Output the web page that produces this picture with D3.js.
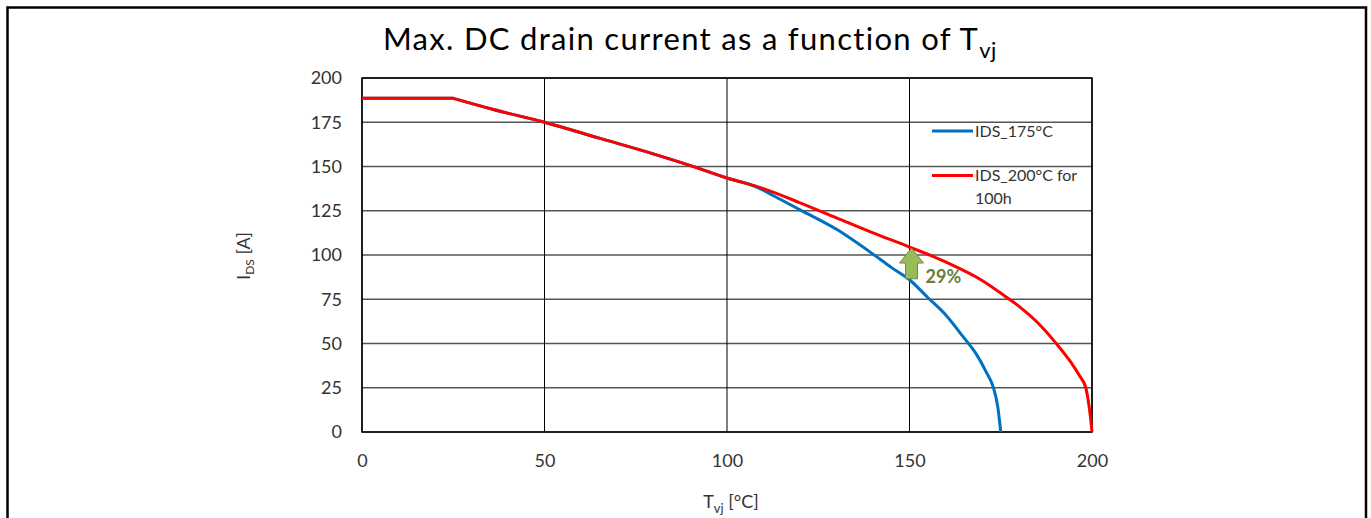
<!DOCTYPE html>
<html>
<head>
<meta charset="utf-8">
<script src="https://cdn.jsdelivr.net/npm/d3@7"></script>
<style>
  body { margin: 0; background: #fff; }
  svg text { font-family: Lato, "Open Sans", sans-serif; }
</style>
</head>
<body>
<div id="grafico"></div>
<script>
// datos
const tempRed = [0, 25, 36, 50, 65, 80, 90, 100, 110, 120, 130, 140, 150, 160, 170, 176, 180, 185, 190, 194, 196.5, 198.3, 199.1, 199.6, 200];
const currRed = [188.5, 188.5, 182.2, 175, 166, 157, 150.5, 143.5, 137.5, 129.5, 121, 112.5, 104.5, 96, 85.5, 77, 71, 62, 50.5, 40, 32, 25, 16, 8, 0];

const tempBlue = [0, 25, 36, 50, 65, 80, 90, 100, 108, 113, 120, 130, 140, 145, 150, 155, 160, 165, 168, 171, 173, 174.2, 175];
const currBlue = [188.5, 188.5, 182.2, 175, 166, 157, 150.5, 143.5, 138.5, 133.2, 125.5, 114.5, 100.5, 93, 86, 76, 66, 53, 45, 34, 25, 14, 0];

const xTicks = [0, 50, 100, 150, 200];
const yTicks = [0, 25, 50, 75, 100, 125, 150, 175, 200];

const seriesNames = ["IDS_175°C", "IDS_200°C for 100h"];
const arrowAt = [150, 86, 104.5];   // T, desde, hasta
const arrowLabel = "29%";

const width = 1371;
const height = 518;
const marginLeft = 362;
const marginRight = 1092;
const marginTop = 78;
const marginBottom = 432;

const svg = d3.select("#grafico")
  .append("svg")
  .attr("width", width)
  .attr("height", height);

// marco exterior
svg.append("rect")
  .attr("x", 7.5).attr("y", 7.5)
  .attr("width", 1358.5).attr("height", 600)
  .attr("fill", "none")
  .attr("stroke", "#000")
  .attr("stroke-width", 2.5);

const xScale = d3.scaleLinear().domain([0, 200]).range([marginLeft, marginRight]);
const yScale = d3.scaleLinear().domain([0, 200]).range([marginBottom, marginTop]);

// titulo
const title = svg.append("text")
  .attr("x", 383).attr("y", 50)
  .attr("font-size", 31)
  .attr("letter-spacing", 1.3)
  .attr("fill", "#000")
  .text("Max. DC drain current as a function of T");
title.append("tspan").attr("font-size", 22).attr("letter-spacing", 0.5).attr("dy", 8).text("vj");

// grilla horizontal
svg.append("g")
  .selectAll("line")
  .data(yTicks)
  .join("line")
  .attr("x1", marginLeft).attr("x2", marginRight)
  .attr("y1", d => yScale(d)).attr("y2", d => yScale(d))
  .attr("stroke", "#555")
  .attr("stroke-width", 1.5);

// grilla vertical
svg.append("g")
  .selectAll("line")
  .data(xTicks)
  .join("line")
  .attr("x1", d => xScale(d)).attr("x2", d => xScale(d))
  .attr("y1", marginTop).attr("y2", marginBottom)
  .attr("stroke", "#000")
  .attr("stroke-width", 1);

// borde del area
svg.append("rect")
  .attr("x", marginLeft).attr("y", marginTop)
  .attr("width", marginRight - marginLeft)
  .attr("height", marginBottom - marginTop)
  .attr("fill", "none")
  .attr("stroke", "#000")
  .attr("stroke-width", 1.5);

// ejes (solo etiquetas)
const yAxis = d3.axisLeft(yScale).tickValues(yTicks).tickSize(0).tickPadding(20);
svg.append("g")
  .attr("transform", `translate(${marginLeft},0)`)
  .call(yAxis)
  .call(g => g.select(".domain").remove())
  .selectAll("text")
  .attr("font-size", 18)
  .attr("font-family", "Lato, sans-serif")
  .attr("fill", "#333");

const xAxis = d3.axisBottom(xScale).tickValues(xTicks).tickSize(0).tickPadding(22);
svg.append("g")
  .attr("transform", `translate(0,${marginBottom})`)
  .call(xAxis)
  .call(g => g.select(".domain").remove())
  .selectAll("text")
  .attr("font-size", 18)
  .attr("font-family", "Lato, sans-serif")
  .attr("fill", "#333");

// curvas: tramo plano recto + tramo curvo suave (esquina en T=25)
const lineaRecta = d3.line().x(d => xScale(d[0])).y(d => yScale(d[1]));
const lineaSuave = d3.line()
  .x(d => xScale(d[0]))
  .y(d => yScale(d[1]))
  .curve(d3.curveMonotoneX);

const dibujarSerie = (temps, corrientes, color) => {
  const datos = temps.map((t, i) => [t, corrientes[i]]);
  const corte = temps.indexOf(25);
  const d = lineaRecta(datos.slice(0, corte + 1)) + lineaSuave(datos.slice(corte)).replace(/^M/, "L");
  svg.append("path")
    .attr("d", d)
    .attr("fill", "none")
    .attr("stroke", color)
    .attr("stroke-width", 3)
    .attr("stroke-linejoin", "round");
};

dibujarSerie(tempBlue, currBlue, "#0070C0");
dibujarSerie(tempRed, currRed, "#FF0000");

// flecha 29%
const ax = xScale(arrowAt[0]) + 2;
const yTop = yScale(arrowAt[2]) + 1;
const yBot = yScale(arrowAt[1]) - 1;
const headH = 15;
const arrowPts = [
  [ax, yTop], [ax + 12, yTop + headH], [ax + 6, yTop + headH], [ax + 6, yBot],
  [ax - 6, yBot], [ax - 6, yTop + headH], [ax - 12, yTop + headH]
];
svg.append("polygon")
  .attr("points", arrowPts.map(p => p.join(",")).join(" "))
  .attr("fill", "#9BBB59")
  .attr("stroke", "#71893F")
  .attr("stroke-width", 1);

svg.append("text")
  .attr("x", ax + 14).attr("y", yBot + 4)
  .attr("font-size", 18)
  .attr("font-weight", "bold")
  .attr("fill", "#6A7D38")
  .text(arrowLabel);

// leyenda
const leyenda = svg.append("g");
leyenda.append("line")
  .attr("x1", 932).attr("x2", 973).attr("y1", 131).attr("y2", 131)
  .attr("stroke", "#0070C0").attr("stroke-width", 3);
leyenda.append("text")
  .attr("x", 975).attr("y", 137)
  .attr("font-size", 16).attr("fill", "#333")
  .text(seriesNames[0]);
leyenda.append("line")
  .attr("x1", 932).attr("x2", 973).attr("y1", 175.5).attr("y2", 175.5)
  .attr("stroke", "#FF0000").attr("stroke-width", 3);
const t2 = leyenda.append("text")
  .attr("font-size", 16).attr("fill", "#333");
t2.append("tspan").attr("x", 975).attr("y", 181).text("IDS_200°C for");
t2.append("tspan").attr("x", 975).attr("y", 204).text("100h");

// titulos de ejes
const yLabel = svg.append("text")
  .attr("transform", "translate(250,256) rotate(-90)")
  .attr("text-anchor", "middle")
  .attr("font-size", 18)
  .attr("fill", "#333");
yLabel.append("tspan").text("I");
yLabel.append("tspan").attr("font-size", 12).attr("dy", 4).text("DS");
yLabel.append("tspan").attr("dy", -4).text(" [A]");

const xLabel = svg.append("text")
  .attr("x", 731).attr("y", 508)
  .attr("text-anchor", "middle")
  .attr("font-size", 18)
  .attr("fill", "#333");
xLabel.append("tspan").text("T");
xLabel.append("tspan").attr("font-size", 13).attr("dy", 5).text("vj");
xLabel.append("tspan").attr("dy", -5).text(" [°C]");
</script>
</body>
</html>
